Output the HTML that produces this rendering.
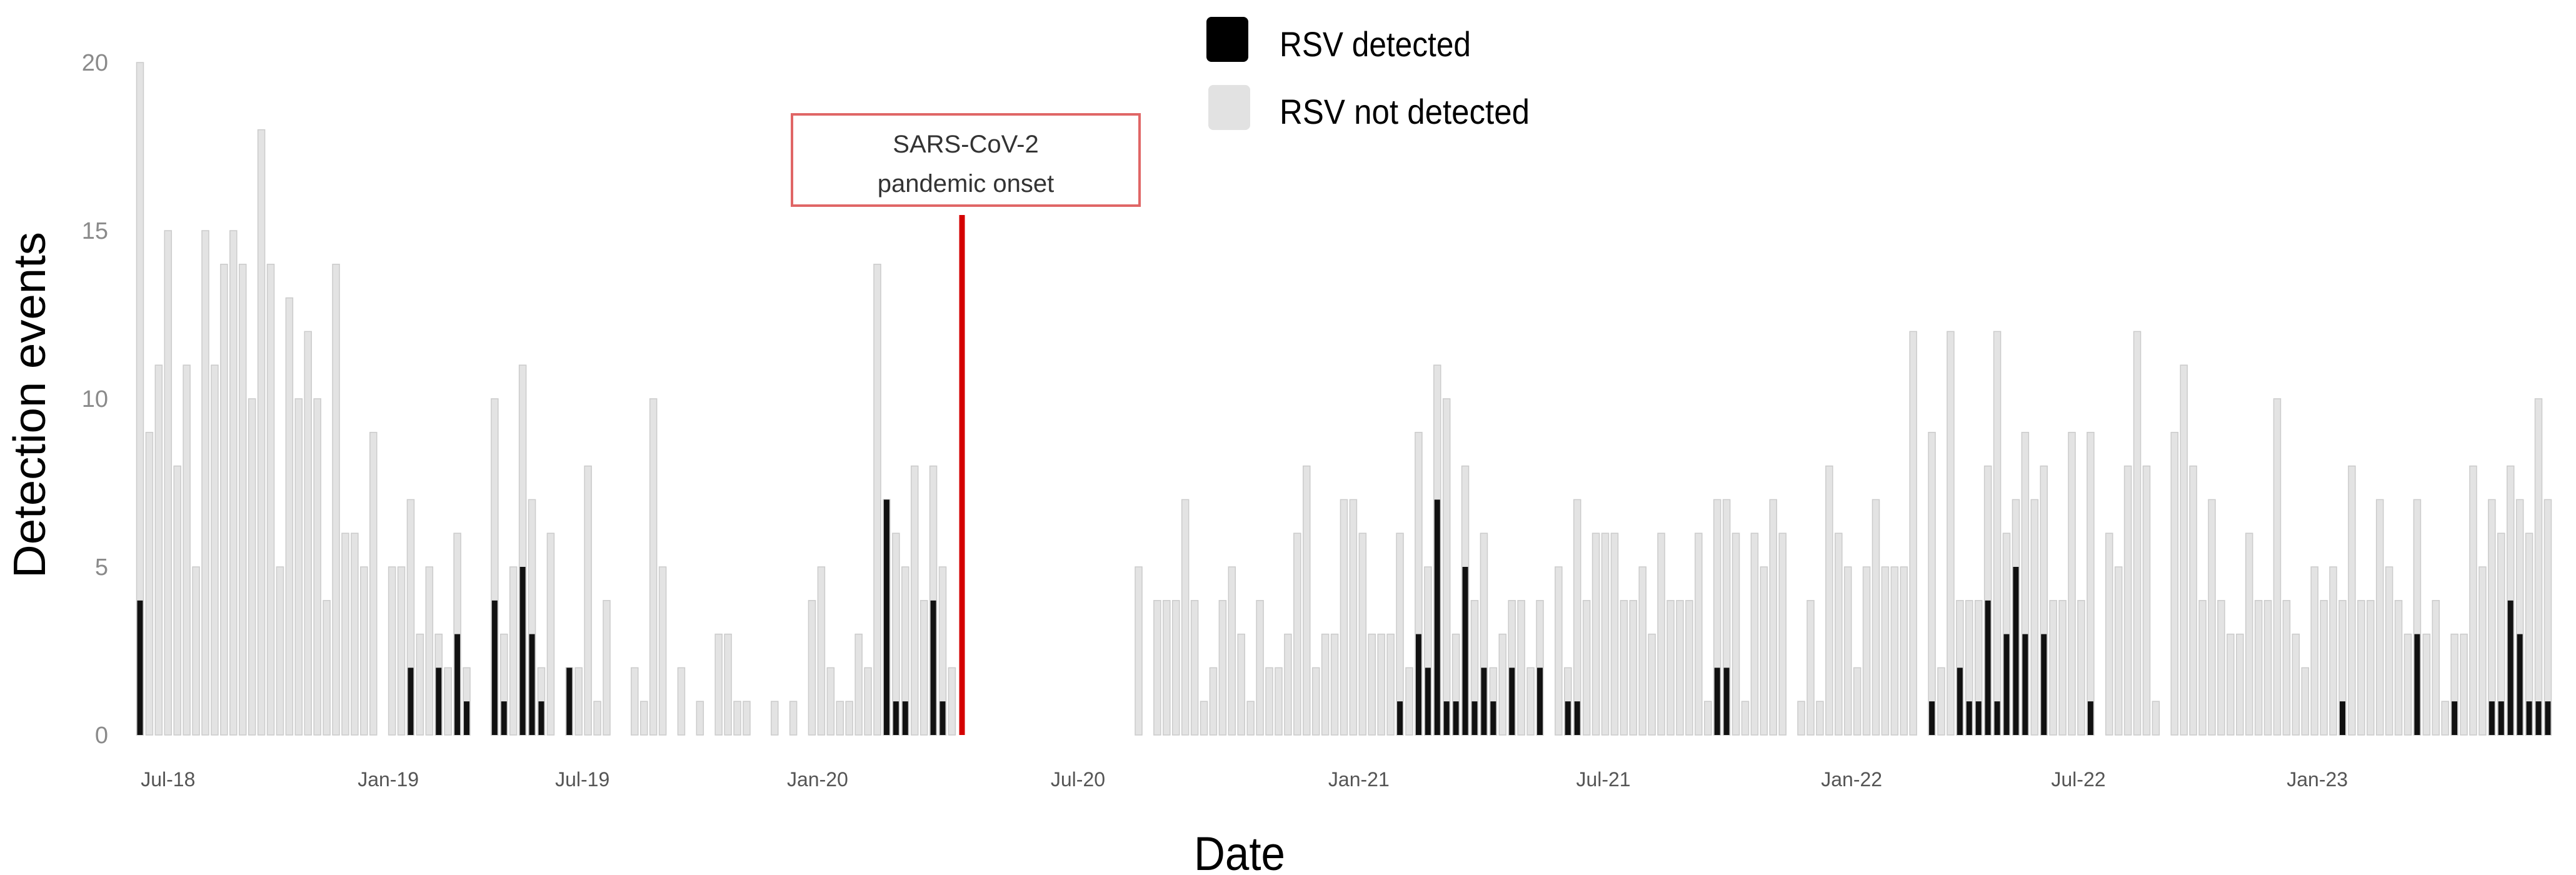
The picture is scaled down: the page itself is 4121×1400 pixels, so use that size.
<!DOCTYPE html>
<html><head><meta charset="utf-8"><style>
html,body{margin:0;padding:0;background:#fff;}
svg{display:block;font-family:"Liberation Sans",sans-serif;}
</style></head><body>
<svg id="chart" width="4121" height="1400" viewBox="0 0 4121 1400" xmlns="http://www.w3.org/2000/svg">
<rect width="4121" height="1400" fill="#fff"/>
<g id="bars"></g>
<g id="yticks"></g>
<g id="xticks"></g>
<text transform="translate(72,648) rotate(-90)" text-anchor="middle" font-size="72" fill="#000" textLength="554" lengthAdjust="spacingAndGlyphs">Detection events</text>
<text x="1983" y="1392" text-anchor="middle" font-size="76" fill="#000" textLength="146" lengthAdjust="spacingAndGlyphs">Date</text>
<g>
<rect x="1930" y="27" width="67" height="72" rx="8" fill="#000"/>
<text x="2047" y="90" font-size="56" fill="#000" textLength="306" lengthAdjust="spacingAndGlyphs">RSV detected</text>
<rect x="1933" y="136" width="67" height="72" rx="8" fill="#e2e2e2"/>
<text x="2047" y="198" font-size="56" fill="#000" textLength="400" lengthAdjust="spacingAndGlyphs">RSV not detected</text>
</g>
<g>
<rect x="1267" y="183" width="556" height="146" fill="#fff" stroke="#e06666" stroke-width="4"/>
<text x="1545" y="244" text-anchor="middle" font-size="40" fill="#333">SARS-CoV-2</text>
<text x="1545" y="307" text-anchor="middle" font-size="40" fill="#333">pandemic onset</text>
<line x1="1539" y1="344" x2="1539" y2="1176" stroke="#d40000" stroke-width="9"/>
</g>
</svg>
<script>
const totals = [20,9,11,15,8,11,5,15,11,14,15,14,10,18,14,5,13,10,12,10,4,14,6,6,5,9,0,5,5,7,3,5,3,2,6,2,0,0,10,3,5,11,7,2,6,0,2,2,8,1,4,0,0,2,1,10,
5,0,2,0,1,0,3,3,1,1,0,0,1,0,1,0,4,5,2,1,1,3,2,14,7,6,5,8,4,8,5,2,
0,0,0,0,0,0,0,0,0,0,0,0,0,0,0,0,0,0,0,
5,0,
4,4,4,7,4,1,2,4,5,3, 1,4,2,2,3,6,8,2,3,3, 7,7,6,3,3,3,6,2,9,5, 11,10,3,8,4,6,2,3,4,4,
2,4,0,5,2,7,4,6,6,6, 4,4,5,3,6,4,4,4,6,1, 7,7,6,1,6,5,7,6,0,1, 4,1,8,6,5,2,5,7,5,5,
5,12,0,9,2,12,4,4,4,8, 12,6,7,9,7,8,4,4,9,4, 9,0,6,5,8,12,8,1,0,9, 11,8,4,7,4,3,3,6,4,4,
10,4,3,2,5,4,5,4,8,4, 4,7,5,4,3,7,3,4,1,3, 3,8,5,7,6,8,7,6,10,7];
const detectedWeeks = [0,29,32,34,35,38,39,41,42,43,46,80,81,82,85,86,135,137,138,139,140,141,142,143,144,145,147,150,153,154,169,170,192,195,196,197,198,199,200,201,202,204,209,236,244,248,252,253,254,255,256,257,258];
const detectedCounts = [4,2,2,3,1,4,1,5,3,1,2,7,1,1,4,1,1,3,2,7,1,1,5,1,2,1,2,2,1,1,2,2,1,2,1,1,4,1,3,5,3,3,1,1,3,1,1,1,4,3,1,1,1];
const yTicks = [0,5,10,15,20];
const xTickLabels = ["Jul-18","Jan-19","Jul-19","Jan-20","Jul-20","Jan-21","Jul-21","Jan-22","Jul-22","Jan-23"];
const xTickWeeks = [3,26.6,47.4,72.6,100.5,130.6,156.8,183.4,207.7,233.3];

const NS = "http://www.w3.org/2000/svg";
const x0 = 224, step = 14.93, yBase = 1176, yTop = 100, yMax = 20;
function xScale(i){ return x0 + step*i; }
function yScale(v){ return yBase - (yBase - yTop) * v / yMax; }

const detected = totals.map(()=>0);
detectedWeeks.forEach((w,k)=>{ detected[w] = detectedCounts[k]; });

const barsG = document.getElementById('bars');
totals.forEach((t,i)=>{
  if(t<=0) return;
  const cx = xScale(i);
  const r = document.createElementNS(NS,'rect');
  r.setAttribute('x', cx-5.5); r.setAttribute('width', 11);
  r.setAttribute('y', yScale(t)); r.setAttribute('height', yBase - yScale(t));
  r.setAttribute('fill', '#e3e3e3'); r.setAttribute('stroke', '#cbcbcb'); r.setAttribute('stroke-width', '1.5');
  
  
  barsG.appendChild(r);
  const d = detected[i];
  if(d>0){
    const b = document.createElementNS(NS,'rect');
    b.setAttribute('x', cx-4.5); b.setAttribute('width', 9);
    b.setAttribute('y', yScale(d)); b.setAttribute('height', yBase - yScale(d));
    b.setAttribute('fill', '#111');
    
    
    barsG.appendChild(b);
  }
});

const yG = document.getElementById('yticks');
yTicks.forEach(v=>{
  const t = document.createElementNS(NS,'text');
  t.setAttribute('x', 173); t.setAttribute('y', yScale(v)+13);
  t.setAttribute('text-anchor','end'); t.setAttribute('font-size','38'); t.setAttribute('fill','#8a8a8a');
  t.textContent = v;
  
  
  yG.appendChild(t);
});

const xG = document.getElementById('xticks');
xTickLabels.forEach((lab,k)=>{
  const t = document.createElementNS(NS,'text');
  t.setAttribute('x', xScale(xTickWeeks[k])); t.setAttribute('y', 1258);
  t.setAttribute('text-anchor','middle'); t.setAttribute('font-size','32'); t.setAttribute('fill','#555');
  t.textContent = lab;
  
  
  xG.appendChild(t);
});
</script>
</body></html>
